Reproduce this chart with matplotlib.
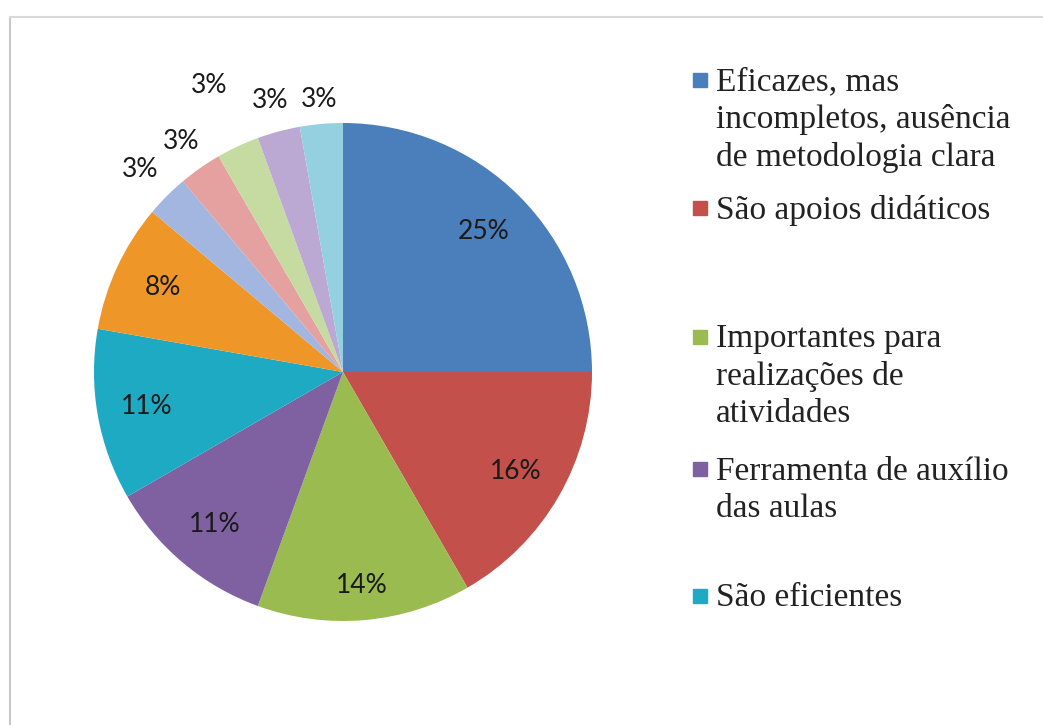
import matplotlib.pyplot as plt
from matplotlib.lines import Line2D
from matplotlib.patches import Rectangle
import numpy as np

# response counts (36 answers) and the percentage labels shown on the chart
counts = [9, 6, 5, 4, 4, 3, 1, 1, 1, 1, 1]
pct_labels = ['25%', '16%', '14%', '11%', '11%', '8%', '3%', '3%', '3%', '3%', '3%']
colors = ['#4A7FBC', '#C4504C', '#99BB4F', '#7F61A2', '#1FAAC4', '#EF9628',
          '#A3B6DF', '#E5A0A0', '#C6DBA2', '#BBA9D3', '#95D0E0']
legend_labels = ['Eficazes, mas\nincompletos, ausência\nde metodologia clara',
                 'São apoios didáticos',
                 'Importantes para\nrealizações de\natividades',
                 'Ferramenta de auxílio\ndas aulas',
                 'São eficientes']

W, H = 1043, 725
fig = plt.figure(figsize=(W / 100, H / 100), dpi=100)

# pie: centre (343, 372) px, radius 249 px
cx, cy, r = 343, 372, 249
ax = fig.add_axes([(cx - r) / W, (H - cy - r) / H, 2 * r / W, 2 * r / H])
wedges, _ = ax.pie(counts, colors=colors, startangle=90, counterclock=False,
                   radius=1.0, wedgeprops=dict(linewidth=0))
ax.set_xlim(-1, 1)
ax.set_ylim(-1, 1)
ax.set_aspect('equal')

# label distance for each slice (small ones sit outside, staggered)
dist = [0.8, 0.8, 0.86, 0.8, 0.8, 0.8, 1.15, 1.13, 1.27, 1.13, 1.1]
for w, lab, d in zip(wedges, pct_labels, dist):
    ang = np.deg2rad((w.theta1 + w.theta2) / 2)
    ax.text(d * np.cos(ang), d * np.sin(ang), lab, ha='center', va='center',
            fontsize=19, family='Lato', color='#1a1a1a')

# legend, placed like the original
leg_y = [80, 208, 337, 469, 596]
for lab, y, c in zip(legend_labels, leg_y, colors[:5]):
    fig.patches.append(Rectangle((693 / W, 1 - (y + 7) / H), 14 / W, 14 / H,
                                 transform=fig.transFigure, color=c))
    fig.text(716 / W, 1 - (y - 13) / H, lab, ha='left', va='top',
             fontsize=24, family='Liberation Serif', color='#222222',
             linespacing=1.28)

# light frame lines (chart area border)
fig.add_artist(Line2D([10 / W, 10 / W], [0, 1 - 17 / H], color='#c8c8c8', lw=1.5))
fig.add_artist(Line2D([10 / W, 1], [1 - 17 / H, 1 - 17 / H], color='#d8d8d8', lw=1.5))

fig.savefig('out.png', dpi=100)
